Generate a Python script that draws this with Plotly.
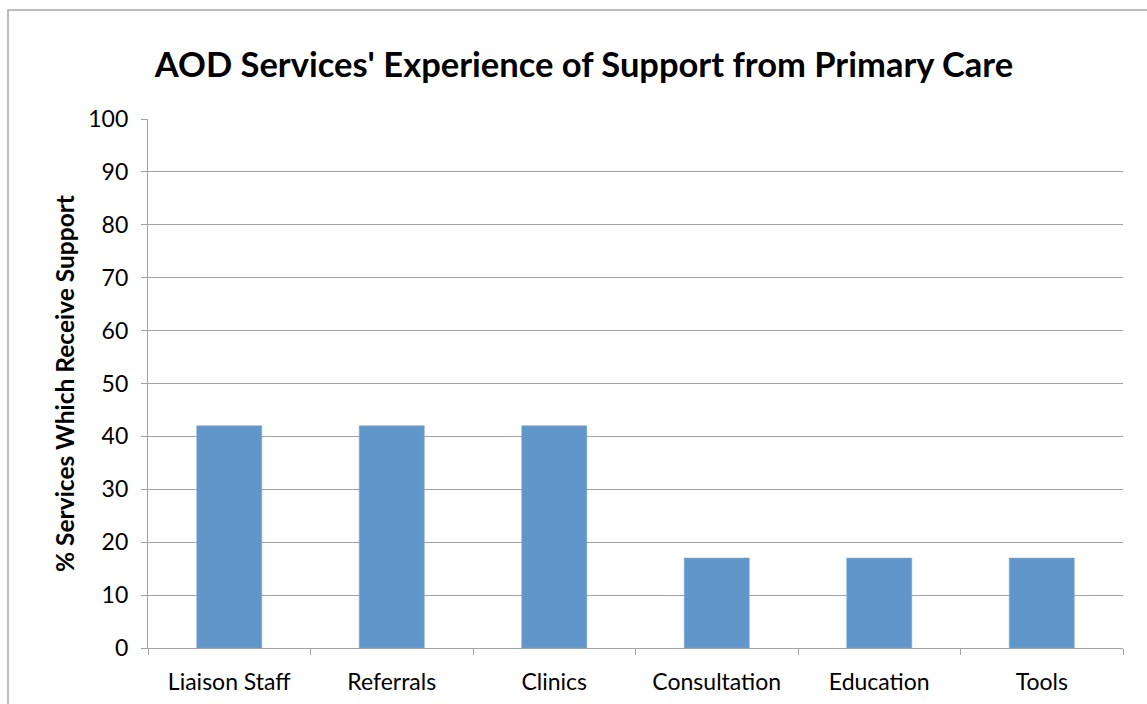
import plotly.graph_objects as go

# Support types and the share of AOD services receiving each one
categories = ["Liaison Staff", "Referrals", "Clinics", "Consultation", "Education", "Tools"]
percent_receiving = [42, 42, 42, 17, 17, 17]

# Y-axis tick values
y_ticks = [0, 10, 20, 30, 40, 50, 60, 70, 80, 90, 100]

W, H = 1147, 704
L, R, T, B = 148, 24, 119, 56
pw, ph = W - L - R, H - T - B

GRID = "#a3a3a3"
FONT = "Lato, 'Open Sans', sans-serif"

fig = go.Figure(
    go.Bar(
        x=categories,
        y=percent_receiving,
        marker=dict(color="#6196cb", line=dict(color="#7aa6d4", width=0.6)),
        width=0.4,
        hoverinfo="x+y",
    )
)

# Outer chart frame
fig.add_shape(
    type="rect", xref="paper", yref="paper",
    x0=(8 - L) / pw, x1=(1152 - L) / pw,
    y0=-(712 - (H - B)) / ph, y1=1 + (T - 10) / ph,
    line=dict(color="#a6a6a6", width=1.5), layer="below",
)

fig.update_layout(
    width=W, height=H,
    margin=dict(l=L, r=R, t=T, b=B, autoexpand=False),
    paper_bgcolor="white", plot_bgcolor="white",
    showlegend=False,
    font=dict(family=FONT, color="black"),
    title=dict(
        text="<b>AOD Services' Experience of Support from Primary Care</b>",
        x=584 / W, xanchor="center",
        y=1 - 65 / H, yanchor="middle",
        font=dict(size=34.5, family=FONT, color="black"),
    ),
    xaxis=dict(
        type="category", automargin=False,
        showline=True, linecolor=GRID, linewidth=1.3,
        ticks="outside", tickson="boundaries", ticklen=6,
        tickcolor=GRID, tickwidth=1.3,
        tickfont=dict(size=23, family=FONT),
        ticklabelstandoff=13,
        showgrid=False,
    ),
    yaxis=dict(
        range=[0, 100], tickvals=y_ticks, automargin=False,
        showline=True, linecolor=GRID, linewidth=1.3,
        ticks="outside", ticklen=6, tickcolor=GRID, tickwidth=1.3,
        showgrid=True, gridcolor=GRID, gridwidth=1.3,
        zeroline=False,
        tickfont=dict(size=23, family=FONT),
        ticklabelstandoff=8,
        title=dict(
            text="<b>% Services Which Receive Support</b>",
            font=dict(size=24.5, family=FONT),
            standoff=6,
        ),
    ),
)

fig.write_html("out.html")
